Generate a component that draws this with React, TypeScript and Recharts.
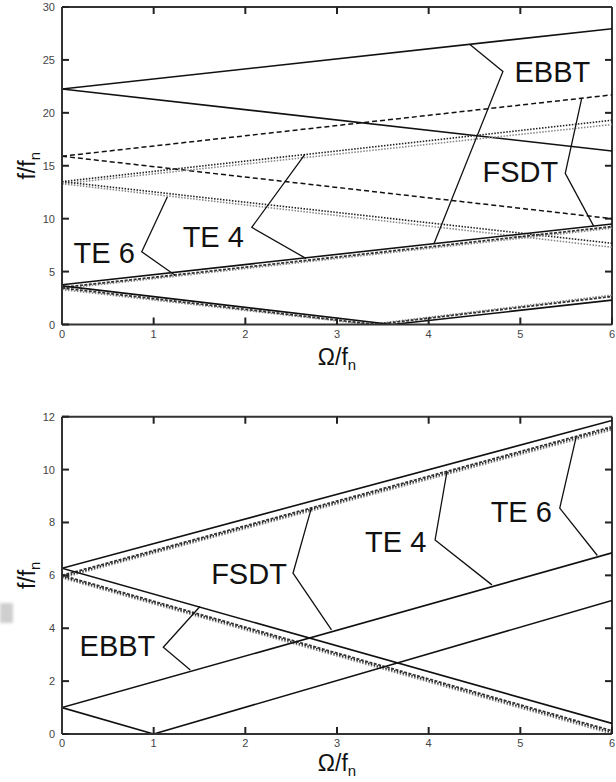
import React from 'react';
import { LineChart, Line, XAxis, YAxis, ReferenceDot, ReferenceLine } from 'recharts';

type P = { x: number; y: number };

// ---------- shared ticks ----------
const xTicks = [0, 1, 2, 3, 4, 5, 6];
const topYTicks = [0, 5, 10, 15, 20, 25, 30];
const botYTicks = [0, 2, 4, 6, 8, 10, 12];

// ---------- top panel series ----------
const topEbbtUp: P[] = [{ x: 0, y: 22.25 }, { x: 6, y: 27.95 }];
const topEbbtDown: P[] = [{ x: 0, y: 22.25 }, { x: 6, y: 16.4 }];
const topFsdtUp: P[] = [{ x: 0, y: 15.9 }, { x: 6, y: 21.7 }];
const topFsdtDown: P[] = [{ x: 0, y: 15.9 }, { x: 6, y: 10.0 }];
const topTe4Up: P[] = [{ x: 0, y: 13.5 }, { x: 6, y: 19.3 }];
const topTe4Down: P[] = [{ x: 0, y: 13.5 }, { x: 6, y: 7.67 }];
const topTe6Up: P[] = [{ x: 0, y: 13.3 }, { x: 6, y: 18.9 }];
const topTe6Down: P[] = [{ x: 0, y: 13.3 }, { x: 6, y: 7.3 }];
const topLowSolidUp: P[] = [{ x: 0, y: 3.75 }, { x: 6, y: 9.5 }];
const topLowSolidDown: P[] = [{ x: 0, y: 3.65 }, { x: 3.6, y: 0 }, { x: 6, y: 2.3 }];
const topLowDashUp: P[] = [{ x: 0, y: 3.5 }, { x: 6, y: 9.25 }];
const topLowDashDown: P[] = [{ x: 0, y: 3.45 }, { x: 3.42, y: 0 }, { x: 6, y: 2.65 }];
const topLowDotUp: P[] = [{ x: 0, y: 3.38 }, { x: 6, y: 9.1 }];
const topLowDotDown: P[] = [{ x: 0, y: 3.3 }, { x: 3.35, y: 0 }, { x: 6, y: 2.78 }];

// top panel annotation leaders and label anchors
const topLeadEbbt: P[] = [{ x: 4.45, y: 26.46 }, { x: 4.81, y: 23.9 }, { x: 4.06, y: 7.67 }];
const topLeadFsdt: P[] = [{ x: 5.67, y: 21.4 }, { x: 5.49, y: 14.28 }, { x: 5.8, y: 9.3 }];
const topLeadTe4: P[] = [{ x: 2.65, y: 16.07 }, { x: 2.07, y: 9.18 }, { x: 2.66, y: 6.25 }];
const topLeadTe6: P[] = [{ x: 1.15, y: 12.07 }, { x: 0.87, y: 6.87 }, { x: 1.23, y: 4.67 }];
const topLabelNames = ['EBBT', 'FSDT', 'TE 4', 'TE 6'];
const topLabelX = [5.35, 5.0, 1.65, 0.46];
const topLabelY = [23.9, 14.4, 8.3, 6.8];

// ---------- bottom panel series ----------
const botEbbtHighUp: P[] = [{ x: 0, y: 6.27 }, { x: 6, y: 11.86 }];
const botEbbtHighDown: P[] = [{ x: 0, y: 6.27 }, { x: 6, y: 0.4 }];
const botEbbtLowUp: P[] = [{ x: 0, y: 1.0 }, { x: 6, y: 6.85 }];
const botEbbtLowDown: P[] = [{ x: 0, y: 1.0 }, { x: 1, y: 0 }, { x: 6, y: 5.05 }];
const botFsdtUp: P[] = [{ x: 0, y: 6.0 }, { x: 6, y: 11.62 }];
const botFsdtDown: P[] = [{ x: 0, y: 6.0 }, { x: 6, y: 0.12 }];
const botTe4Up: P[] = [{ x: 0, y: 5.95 }, { x: 6, y: 11.56 }];
const botTe4Down: P[] = [{ x: 0, y: 5.95 }, { x: 6, y: 0.06 }];
const botTe6Up: P[] = [{ x: 0, y: 5.9 }, { x: 6, y: 11.5 }];
const botTe6Down: P[] = [{ x: 0, y: 5.9 }, { x: 6, y: 0.0 }];

const botLeadEbbt: P[] = [{ x: 1.505, y: 4.82 }, { x: 1.105, y: 3.28 }, { x: 1.4, y: 2.42 }];
const botLeadFsdt: P[] = [{ x: 2.72, y: 8.54 }, { x: 2.52, y: 6.08 }, { x: 2.94, y: 3.94 }];
const botLeadTe4: P[] = [{ x: 4.2, y: 9.93 }, { x: 4.07, y: 7.34 }, { x: 4.69, y: 5.64 }];
const botLeadTe6: P[] = [{ x: 5.61, y: 11.25 }, { x: 5.43, y: 8.54 }, { x: 5.84, y: 6.75 }];
const botLabelNames = ['EBBT', 'FSDT', 'TE 4', 'TE 6'];
const botLabelX = [0.605, 2.04, 3.64, 5.01];
const botLabelY = [3.33, 6.08, 7.28, 8.41];

// ---------- styles ----------
type Style = { stroke: string; width: number; dash?: string };
const SOLID: Style = { stroke: '#111', width: 1.6 };
const DASH: Style = { stroke: '#111', width: 1.5, dash: '5 3' };
const DASH_FINE: Style = { stroke: '#333', width: 1.8, dash: '3 1.5' };
const DOT_DARK: Style = { stroke: '#222', width: 1.6, dash: '1.5 1.5' };
const DOT_GRAY: Style = { stroke: '#888', width: 1.6, dash: '1.5 1.5' };
const LEADER: Style = { stroke: '#111', width: 1.3 };

const FONT = '"Liberation Sans", Arial, Helvetica, sans-serif';
const AXIS_COLOR = '#333';
const TICK_PX = 7; // tick mark length in pixels
const PLOT_W = 550; // plot width in pixels
const TICK_GAP = 10; // distance from axis line to the label anchor

type Series = { data: P[]; style: Style };

const topSeries: Series[] = [
  { data: topEbbtUp, style: SOLID },
  { data: topEbbtDown, style: SOLID },
  { data: topFsdtUp, style: DASH },
  { data: topFsdtDown, style: DASH },
  { data: topTe6Up, style: DOT_GRAY },
  { data: topTe6Down, style: DOT_GRAY },
  { data: topTe4Up, style: DOT_DARK },
  { data: topTe4Down, style: DOT_DARK },
  { data: topLowDotUp, style: DOT_GRAY },
  { data: topLowDotDown, style: DOT_GRAY },
  { data: topLowDashUp, style: DASH_FINE },
  { data: topLowDashDown, style: DASH_FINE },
  { data: topLowSolidUp, style: SOLID },
  { data: topLowSolidDown, style: SOLID },
  { data: topLeadEbbt, style: LEADER },
  { data: topLeadFsdt, style: LEADER },
  { data: topLeadTe4, style: LEADER },
  { data: topLeadTe6, style: LEADER },
];

const botSeries: Series[] = [
  { data: botTe6Up, style: DOT_GRAY },
  { data: botTe6Down, style: DOT_GRAY },
  { data: botTe4Up, style: DOT_DARK },
  { data: botTe4Down, style: DOT_DARK },
  { data: botFsdtUp, style: DASH_FINE },
  { data: botFsdtDown, style: DASH_FINE },
  { data: botEbbtHighUp, style: SOLID },
  { data: botEbbtHighDown, style: SOLID },
  { data: botEbbtLowUp, style: SOLID },
  { data: botEbbtLowDown, style: SOLID },
  { data: botLeadEbbt, style: LEADER },
  { data: botLeadFsdt, style: LEADER },
  { data: botLeadTe4, style: LEADER },
  { data: botLeadTe6, style: LEADER },
];

const makeXTitle = (baseline: number) => (props: any) => {
  const vb = props.viewBox || { x: 0, y: 0, width: 0, height: 0 };
  return (
    <text x={vb.x + vb.width / 2} y={vb.y + baseline} textAnchor="middle" fontSize={23} fill="#111" fontFamily={FONT}>
      Ω/f<tspan fontSize={15} dy={5}>n</tspan>
    </text>
  );
};

const makeYTitle = (baselineX: number) => (props: any) => {
  const vb = props.viewBox || { x: 0, y: 0, width: 0, height: 0 };
  const cx = vb.x + baselineX;
  const cy = vb.y + vb.height / 2;
  return (
    <text x={cx} y={cy} transform={`rotate(-90, ${cx}, ${cy})`} textAnchor="middle" fontSize={23} fill="#111" fontFamily={FONT}>
      f/f<tspan fontSize={15} dy={5}>n</tspan>
    </text>
  );
};

const BottomTick = (props: any) => {
  const { x, y, payload } = props;
  const axisY = Number(y) - TICK_GAP;
  return (
    <text x={x} y={axisY + 13} textAnchor="middle" fontSize={11} fill="#444" fontFamily={FONT}>{payload.value}</text>
  );
};

const LeftTick = (props: any) => {
  const { x, y, payload } = props;
  const axisX = Number(x) + TICK_GAP;
  return (
    <text x={axisX - 7} y={Number(y) + 4} textAnchor="end" fontSize={11} fill="#444" fontFamily={FONT}>{payload.value}</text>
  );
};

type PanelProps = {
  height: number;
  marginTop: number;
  xAxisHeight: number;
  yMax: number;
  yTicks: number[];
  series: Series[];
  labelNames: string[];
  labelX: number[];
  labelY: number[];
  xTitleBaseline: number;
};

const axisLine = { stroke: AXIS_COLOR, strokeWidth: 2 };
const tickLine = { stroke: '#222', strokeWidth: 2 };

function Panel(p: PanelProps) {
  const plotH = p.height - p.marginTop - p.xAxisHeight;
  const tickDy = (p.yMax * TICK_PX) / plotH; // tick length in y data units
  const tickDx = (6 * TICK_PX) / PLOT_W; // tick length in x data units
  const innerX = xTicks.filter((t) => t > 0 && t < 6);
  const innerY = p.yTicks.filter((t) => t > 0 && t < p.yMax);
  return (
    <LineChart width={616} height={p.height} margin={{ top: p.marginTop, right: 4, bottom: 0, left: 0 }}>
      <XAxis
        xAxisId="b"
        type="number"
        dataKey="x"
        domain={[0, 6]}
        ticks={xTicks}
        orientation="bottom"
        height={p.xAxisHeight}
        tickSize={-TICK_PX}
        tickMargin={TICK_GAP + TICK_PX}
        axisLine={axisLine}
        tickLine={tickLine}
        tick={BottomTick}
        interval={0}
        allowDataOverflow
        label={{ content: makeXTitle(p.xTitleBaseline) }}
      />
      <YAxis
        yAxisId="l"
        type="number"
        dataKey="y"
        domain={[0, p.yMax]}
        ticks={p.yTicks}
        width={62}
        tickSize={-TICK_PX}
        tickMargin={TICK_GAP + TICK_PX}
        axisLine={axisLine}
        tickLine={tickLine}
        tick={LeftTick}
        interval={0}
        allowDataOverflow
        label={{ content: makeYTitle(35) }}
      />
      {/* frame: top and right borders */}
      <ReferenceLine xAxisId="b" yAxisId="l" y={p.yMax} stroke={AXIS_COLOR} strokeWidth={2} />
      <ReferenceLine xAxisId="b" yAxisId="l" x={6} stroke={AXIS_COLOR} strokeWidth={2} />
      {/* inward tick marks on the top and right sides */}
      {innerX.map((t) => (
        <ReferenceLine key={'xt' + t} xAxisId="b" yAxisId="l" stroke="#222" strokeWidth={2} segment={[{ x: t, y: p.yMax - tickDy }, { x: t, y: p.yMax }]} />
      ))}
      {innerY.map((t) => (
        <ReferenceLine key={'yr' + t} xAxisId="b" yAxisId="l" stroke="#222" strokeWidth={2} segment={[{ x: 6 - tickDx, y: t }, { x: 6, y: t }]} />
      ))}
      {p.series.map((s, i) => (
        <Line
          key={i}
          xAxisId="b"
          yAxisId="l"
          data={s.data}
          dataKey="y"
          type="linear"
          stroke={s.style.stroke}
          strokeWidth={s.style.width}
          strokeDasharray={s.style.dash}
          dot={false}
          activeDot={false}
          isAnimationActive={false}
        />
      ))}
      {p.labelNames.map((name, i) => (
        <ReferenceDot
          key={'lab' + i}
          xAxisId="b"
          yAxisId="l"
          x={p.labelX[i]}
          y={p.labelY[i]}
          r={1}
          fill="none"
          stroke="none"
          label={{ value: name, position: 'center', fontSize: 29, fill: '#111', fontFamily: FONT }}
        />
      ))}
    </LineChart>
  );
}

export default function App() {
  return (
    <div style={{ position: 'absolute', left: 0, top: 0, width: 616, height: 782, background: '#fff', fontFamily: FONT }}>
      <div style={{ position: 'absolute', left: 0, top: 0 }}>
        <Panel
          height={380}
          marginTop={7}
          xAxisHeight={55.5}
          yMax={30}
          yTicks={topYTicks}
          series={topSeries}
          labelNames={topLabelNames}
          labelX={topLabelX}
          labelY={topLabelY}
          xTitleBaseline={40.5}
        />
      </div>
      <div style={{ position: 'absolute', left: 0, top: 390 }}>
        <Panel
          height={392}
          marginTop={26.7}
          xAxisHeight={48}
          yMax={12}
          yTicks={botYTicks}
          series={botSeries}
          labelNames={botLabelNames}
          labelX={botLabelX}
          labelY={botLabelY}
          xTitleBaseline={37}
        />
      </div>
      <div style={{ position: 'absolute', left: 0, top: 603, width: 13, height: 20, background: '#cfcfcf', filter: 'blur(1.5px)' }} />
    </div>
  );
}
